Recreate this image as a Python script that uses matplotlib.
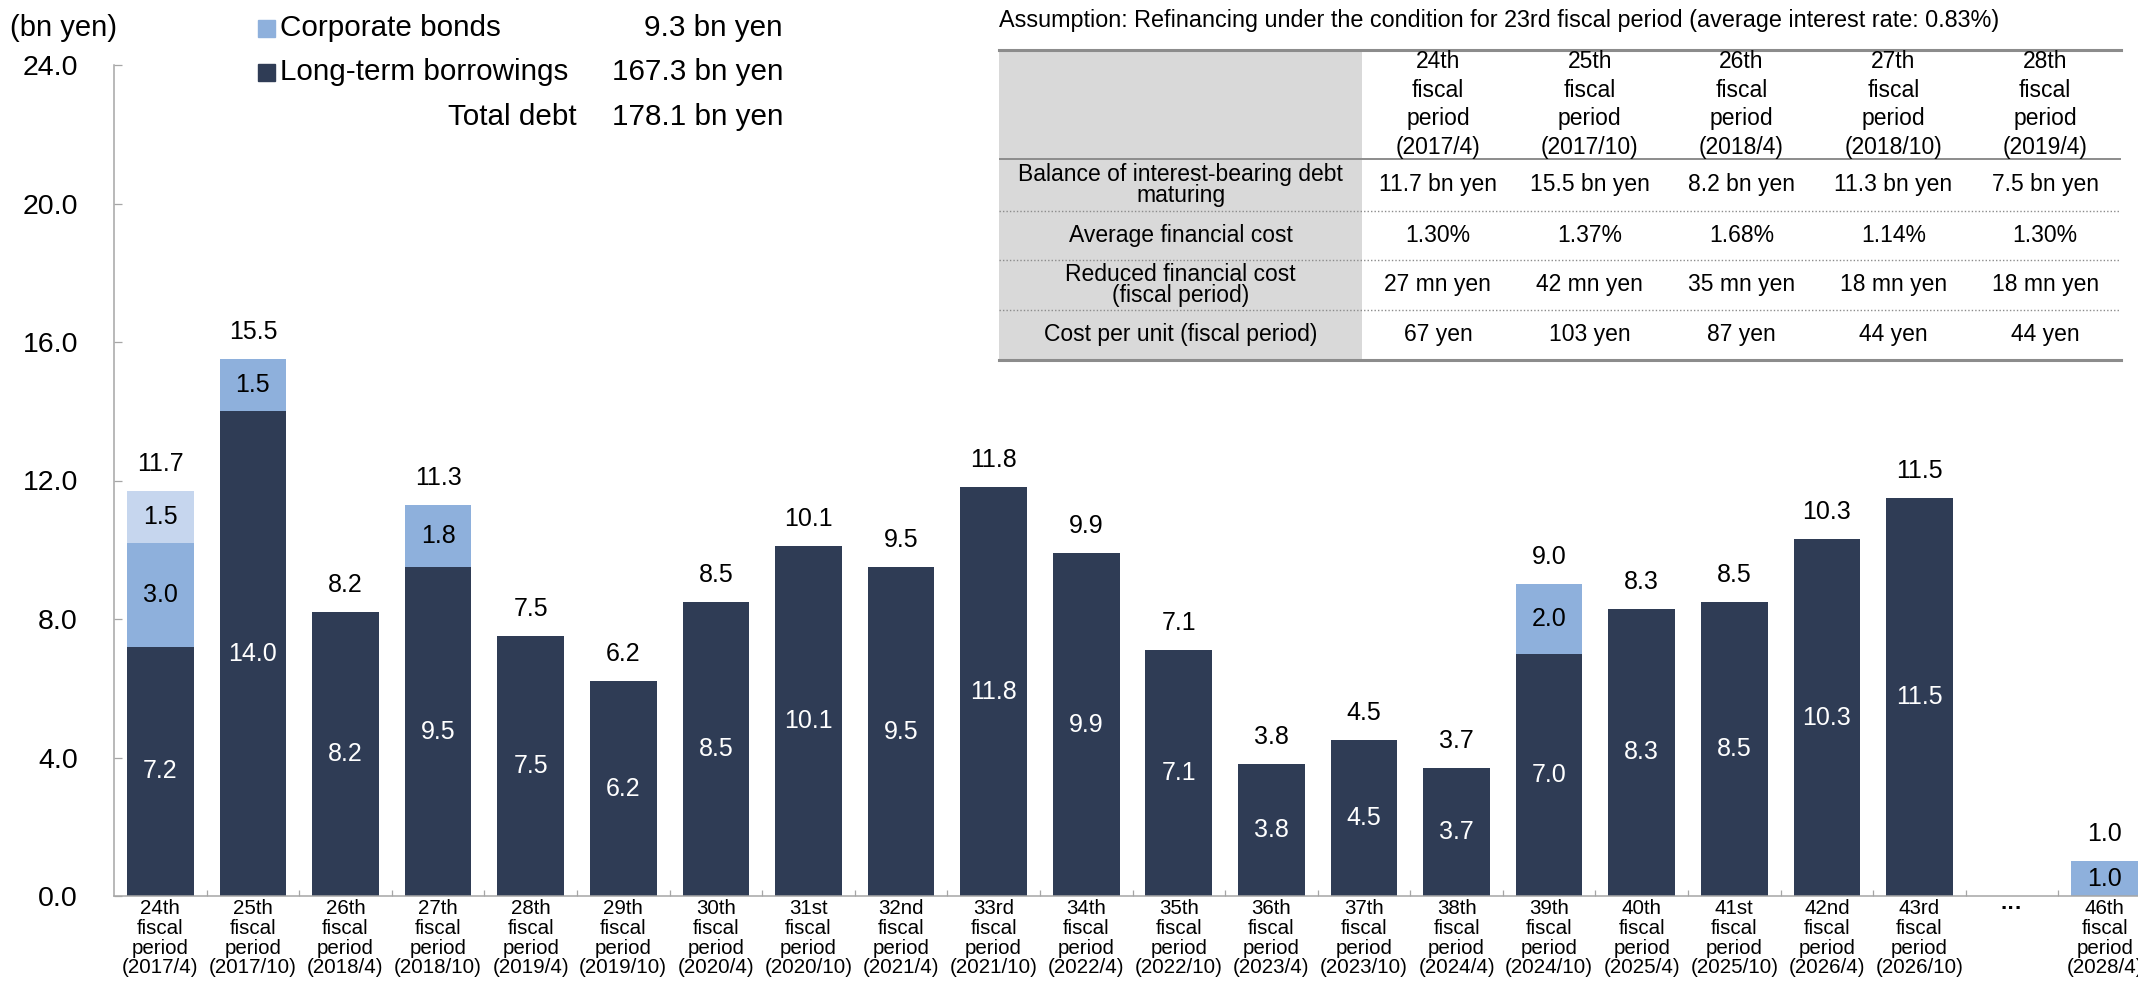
import numpy as np
import matplotlib.pyplot as plt
from matplotlib.patches import Rectangle

plt.rcParams['font.family'] = ['Liberation Sans', 'DejaVu Sans']

W, H = 2138, 991

# debt maturing per fiscal period (bn yen)
periods = ['24th', '25th', '26th', '27th', '28th', '29th', '30th', '31st', '32nd', '33rd',
           '34th', '35th', '36th', '37th', '38th', '39th', '40th', '41st', '42nd', '43rd',
           '', '46th']
dates = ['2017/4', '2017/10', '2018/4', '2018/10', '2019/4', '2019/10', '2020/4', '2020/10',
         '2021/4', '2021/10', '2022/4', '2022/10', '2023/4', '2023/10', '2024/4', '2024/10',
         '2025/4', '2025/10', '2026/4', '2026/10', '', '2028/4']
long_term = [7.2, 14.0, 8.2, 9.5, 7.5, 6.2, 8.5, 10.1, 9.5, 11.8,
             9.9, 7.1, 3.8, 4.5, 3.7, 7.0, 8.3, 8.5, 10.3, 11.5,
             0.0, 0.0]
bonds = [3.0, 1.5, 0.0, 1.8, 0.0, 0.0, 0.0, 0.0, 0.0, 0.0,
         0.0, 0.0, 0.0, 0.0, 0.0, 2.0, 0.0, 0.0, 0.0, 0.0,
         0.0, 1.0]
short_term = [1.5, 0.0, 0.0, 0.0, 0.0, 0.0, 0.0, 0.0, 0.0, 0.0,
              0.0, 0.0, 0.0, 0.0, 0.0, 0.0, 0.0, 0.0, 0.0, 0.0,
              0.0, 0.0]

bonds_total = '9.3 bn yen'
long_term_total = '167.3 bn yen'
debt_total = '178.1 bn yen'

# refinancing table
table_periods = ['24th', '25th', '26th', '27th', '28th']
table_dates = ['2017/4', '2017/10', '2018/4', '2018/10', '2019/4']
avg_cost = ['1.30%', '1.37%', '1.68%', '1.14%', '1.30%']
reduced_cost = ['27 mn yen', '42 mn yen', '35 mn yen', '18 mn yen', '18 mn yen']
unit_cost = ['67 yen', '103 yen', '87 yen', '44 yen', '44 yen']
row_names = ['Balance of interest-bearing debt\nmaturing', 'Average financial cost',
             'Reduced financial cost\n(fiscal period)', 'Cost per unit (fiscal period)']

DARK = '#2f3c55'
MID = '#8eb0dc'
LIGHT = '#c6d6ee'
GREY = '#a6a6a6'


def fx(x):
    return x / W


def fy(y):
    return 1 - y / H


fig = plt.figure(figsize=(W / 100, H / 100), dpi=100)
ax = fig.add_axes([fx(114), fy(896), 2037 / W, (896 - 65) / H])

lt = np.array(long_term)
bd = np.array(bonds)
st = np.array(short_term)
total = lt + bd + st
x = np.arange(len(periods))
bw = 0.72

ax.bar(x, lt, bw, color=DARK)
ax.bar(x, bd, bw, bottom=lt, color=MID)
ax.bar(x, st, bw, bottom=lt + bd, color=LIGHT)

for i in range(len(x)):
    if lt[i] > 0:
        ax.text(x[i], lt[i] / 2, f'{lt[i]:.1f}', ha='center', va='center',
                color='white', fontsize=18)
    if bd[i] > 0:
        ax.text(x[i], lt[i] + bd[i] / 2, f'{bd[i]:.1f}', ha='center', va='center',
                color='black', fontsize=18)
    if st[i] > 0:
        ax.text(x[i], lt[i] + bd[i] + st[i] / 2, f'{st[i]:.1f}', ha='center',
                va='center', color='black', fontsize=18)
    if total[i] > 0:
        ax.annotate(f'{total[i]:.1f}', (x[i], total[i]), xytext=(0, 19.5),
                    textcoords='offset points', ha='center', va='center',
                    fontsize=18)

ax.set_xlim(-0.5, 21.5)
ax.set_ylim(0, 24)
ax.set_yticks(np.arange(0, 25, 4))
ax.set_yticklabels([f'{v:.1f}' for v in np.arange(0, 25, 4)])

labels = []
for p, d in zip(periods, dates):
    if p:
        labels.append(f'{p}\nfiscal\nperiod\n({d})')
    else:
        labels.append('\u00b7\u00b7\u00b7\n \n \n ')
ax.set_xticks(x)
ax.set_xticklabels(labels, fontsize=14.8, linespacing=1.06)
ax.set_xticks(np.arange(0.5, 21, 1), minor=True)
ax.tick_params(axis='x', which='major', length=0, pad=2)
ax.tick_params(axis='x', which='minor', direction='in', length=4.5, color=GREY, width=0.9)
ax.tick_params(axis='y', direction='in', length=6, color=GREY, width=0.9,
               labelsize=20.5, pad=26)
gap_label = ax.get_xticklabels()[20]
gap_label.set_fontweight('bold')
gap_label.set_fontsize(16)

for s in ['top', 'right']:
    ax.spines[s].set_visible(False)
for s in ['left', 'bottom']:
    ax.spines[s].set_color(GREY)
    ax.spines[s].set_linewidth(1.1)

fig.text(fx(10), fy(28), '(bn yen)', fontsize=21, va='center', ha='left')

# legend block
legend_rows = [(28, MID, 'Corporate bonds', bonds_total),
               (72, DARK, 'Long-term borrowings', long_term_total)]
for yy, c, name, val in legend_rows:
    fig.add_artist(Rectangle((fx(258), fy(yy + 8.5)), 17 / W, 17 / H, color=c,
                             transform=fig.transFigure))
    fig.text(fx(280), fy(yy), name, fontsize=21.3, va='center', ha='left')
    fig.text(fx(783), fy(yy), val, fontsize=21.3, va='center', ha='right')
fig.text(fx(577), fy(117), 'Total debt', fontsize=21.3, va='center', ha='right')
fig.text(fx(783), fy(117), debt_total, fontsize=21.3, va='center', ha='right')

# refinancing table
fig.text(fx(999), fy(20), 'Assumption: Refinancing under the condition for 23rd fiscal '
         'period (average interest rate: 0.83%)', fontsize=16.8, va='center', ha='left')

tx0, tx1, ty0, ty1 = 999, 2121, 50, 360
tab = fig.add_axes([fx(tx0), fy(ty1), (tx1 - tx0) / W, (ty1 - ty0) / H])
tab.set_xlim(tx0, tx1)
tab.set_ylim(ty1, ty0)
tab.axis('off')

col0 = 1362
cw = (tx1 - col0) / 5
row_edges = [159, 211, 260, 310, 360]
tab.add_patch(Rectangle((tx0, ty0), col0 - tx0, ty1 - ty0, color='#d9d9d9', lw=0))
tab.plot([tx0, tx1], [ty0, ty0], color='#8c8c8c', lw=2.2, clip_on=False)
tab.plot([tx0, tx1], [ty1, ty1], color='#8c8c8c', lw=2.2, clip_on=False)
tab.plot([tx0, tx1], [row_edges[0], row_edges[0]], color='#8c8c8c', lw=1.4)
for ye in row_edges[1:-1]:
    tab.plot([tx0, tx1], [ye, ye], color='#8c8c8c', lw=1.0, ls=(0, (1, 1.5)))

balance = [f'{t:.1f} bn yen' for t in total[:5]]
rows = [balance, avg_cost, reduced_cost, unit_cost]
for j, (p, d) in enumerate(zip(table_periods, table_dates)):
    cx = col0 + cw * (j + 0.5)
    tab.text(cx, (ty0 + row_edges[0]) / 2, f'{p}\nfiscal\nperiod\n({d})', ha='center',
             va='center', fontsize=16.5, linespacing=1.3)
for r in range(4):
    cy = (row_edges[r] + row_edges[r + 1]) / 2
    tab.text((tx0 + col0) / 2, cy, row_names[r], ha='center', va='center',
             fontsize=16.5, linespacing=0.85)
    for j in range(5):
        cx = col0 + cw * (j + 0.5)
        tab.text(cx, cy, rows[r][j], ha='center', va='center', fontsize=16.5)

fig.savefig('out.png', dpi=100)
